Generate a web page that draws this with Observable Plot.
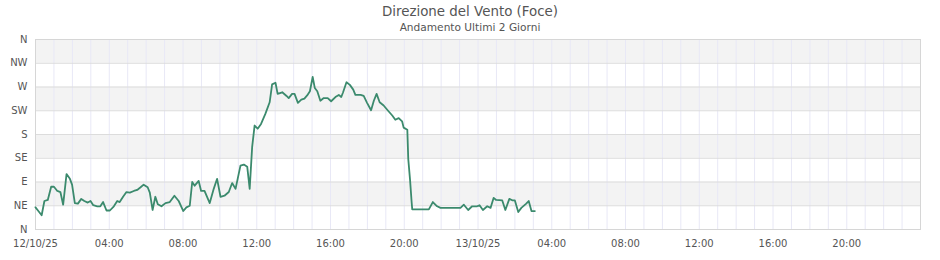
<!DOCTYPE html>
<html>
<head>
<meta charset="utf-8">
<script src="https://cdn.jsdelivr.net/npm/d3@7"></script>
<script src="https://cdn.jsdelivr.net/npm/@observablehq/plot@0.6"></script>
<style>
  body { margin: 0; background: #fff; font-family: "DejaVu Sans", sans-serif; }
  #wrap { position: relative; width: 940px; height: 260px; }
  #title { position: absolute; top: 3px; left: 0; width: 940px; text-align: center; font-size: 13.4px; line-height: 17px; color: #555; }
  #subtitle { position: absolute; top: 20px; left: 0; width: 940px; text-align: center; font-size: 10.6px; line-height: 14px; color: #555; }
  #chart { position: absolute; top: 30px; left: 0; }
</style>
</head>
<body>
<div id="wrap">
  <div id="title">Direzione del Vento (Foce)</div>
  <div id="subtitle">Andamento Ultimi 2 Giorni</div>
  <div id="chart"></div>
</div>
<script>
// minutes after 12/10/25 00:00
const minutes = [0,8,20,29,40,51,60,71,81,90,101,112,119,128,138,149,159,170,179,188,201,211,220,231,242,255,266,274,285,296,307,320,331,342,352,365,372,381,390,398,410,423,437,452,466,481,491,502,510,518,531,539,550,567,580,591,602,615,629,640,651,667,678,689,697,705,713,723,734,748,762,770,781,788,803,817,824,835,843,854,865,875,884,893,902,909,917,927,938,951,962,976,987,995,1001,1012,1023,1034,1041,1058,1068,1079,1092,1101,1110,1120,1133,1146,1161,1171,1182,1193,1198,1210,1213,1219,1224,1226,1280,1293,1307,1318,1383,1394,1408,1421,1437,1445,1456,1470,1481,1491,1499,1519,1529,1542,1553,1560,1571,1581,1597,1605,1614,1625];
// wind direction, degrees
const degrees = [42,36,27,54,56,81,81,73,71,47,105,96,85,50,49,58,54,51,54,46,44,44,52,36,36,44,54,52,62,71,70,73,75,80,85,80,70,37,62,48,44,50,52,64,54,35,42,45,90,83,92,73,73,50,77,96,62,64,71,88,77,121,123,119,77,156,197,191,200,219,241,275,278,257,260,253,249,257,257,240,246,248,254,262,289,268,262,244,249,249,243,251,255,251,260,279,274,265,255,255,253,240,226,244,257,241,235,226,216,208,211,205,193,189,134,93,52,38,38,52,44,41,41,47,37,44,44,46,37,44,41,60,56,55,37,58,55,55,33,41,49,54,35,35];
const dirLabels = ["N","NE","E","SE","S","SW","W","NW","N"];
const dirTicks = [0,45,90,135,180,225,270,315,360];
const greyBands = [[45,90],[135,180],[225,270],[315,360]];

const t0 = Date.UTC(2025, 9, 12, 0, 0);
const data = minutes.map((m, i) => ({ t: new Date(t0 + m * 60000), d: degrees[i] }));
const start = new Date(t0), end = new Date(t0 + 48 * 3600000);
const hours = d3.utcHour.range(start, new Date(+end + 1));
const fourHours = d3.utcHour.every(4).range(start, end);
const bands = greyBands.map(([a, b]) => ({ a, b }));
const fmt = d => (d.getUTCHours() === 0 ? d3.utcFormat("%d/%m/%y")(d) : d3.utcFormat("%H:%M")(d));

const plot = Plot.plot({
  width: 940,
  height: 230,
  marginTop: 9,
  marginBottom: 31,
  marginLeft: 35,
  marginRight: 20,
  style: { fontFamily: "DejaVu Sans, sans-serif", fontSize: "10px", color: "#555", background: "transparent" },
  x: { type: "utc", domain: [start, end], label: null },
  y: { domain: [0, 360], label: null },
  marks: [
    Plot.rect(bands, { x1: start, x2: end, y1: "a", y2: "b", fill: "#f3f3f3" }),
    Plot.ruleX(hours, { x: d => d, stroke: "#e8e8f6", strokeWidth: 1 }),
    Plot.ruleY(dirTicks, { y: d => d, stroke: "#dcdcdc", strokeWidth: 1 }),
    Plot.frame({ stroke: "#d6d6d6" }),
    Plot.axisY({ ticks: dirTicks, tickFormat: (d) => dirLabels[dirTicks.indexOf(d)], tickSize: 0, tickPadding: 8, fill: "#555" }),
    Plot.axisX({ ticks: fourHours, tickFormat: fmt, tickSize: 0, tickPadding: 10, fill: "#555" }),
    Plot.line(data, { x: "t", y: "d", stroke: "#3b8a6d", strokeWidth: 1.8 })
  ]
});
document.getElementById("chart").appendChild(plot);
</script>
</body>
</html>
